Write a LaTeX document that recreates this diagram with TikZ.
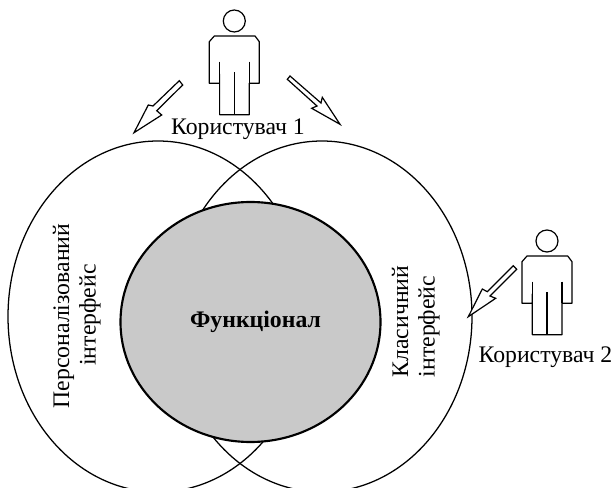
\documentclass[tikz,border=0pt]{standalone}
\usepackage{fontspec}
\setmainfont{Liberation Serif}
\tikzset{
  x=0.75pt,y=-0.75pt,
  ln/.style={draw=black,line width=0.9pt,line join=miter},
  oval/.style={ln,line width=0.95pt},
  core/.style={draw=black,line width=1.6pt,fill=black!21},
  lbl/.style={inner sep=0pt,anchor=base,font=\fontsize{17.8pt}{19pt}\selectfont,align=center},
  blockarrow/.style={ln,fill=white},
  pics/person/.style={code={
    \draw[ln] (0,0) circle[radius=11];
    \draw[ln,line join=round] (-14.7,53) -- (-14.7,62.3) -- (-25,62.3) -- (-25,20.7) -- (-20,15) -- (20.7,15) -- (25,20.7) -- (25,62.3) -- (15,62.3) -- (15,93.7) -- (-14.7,93.7) -- cycle;
    \draw[ln] (-14.7,40.7) -- (-14.7,62.3) (15,40.7) -- (15,62.3) (0,51.3) -- (0,93.7);
  }}
}
\begin{document}
\begin{tikzpicture}
\useasboundingbox (0,0) rectangle (614,488);
\clip (0,0) rectangle (614,488);
\draw[oval] (158,316.5) ellipse[x radius=150,y radius=175.5];
\draw[oval] (322,316.5) ellipse[x radius=150,y radius=175.5];
\draw[core] (250.5,322) ellipse[x radius=130,y radius=120];
\pic at (234.3,21) {person};
\pic at (547,241) {person};
\draw[blockarrow] (179.3,80.7) -- (153,106) -- (148.3,105) -- (134,132.7) -- (161.7,115) -- (156.7,110.7) -- (182.7,85) -- cycle;
\draw[blockarrow] (290,76) -- (321,103) -- (322.3,97.3) -- (340,124.3) -- (311.7,108.3) -- (317,106) -- (287.3,79.3) -- cycle;
\draw[blockarrow] (513.3,265.7) -- (487.3,291.7) -- (482.3,289) -- (468.3,316.7) -- (495.7,298.3) -- (490,296) -- (516.7,269.3) -- cycle;
\node[lbl] (u1) at (238,135) {Користувач 1};
\node[lbl] (u2) at (545.5,363) {Користувач 2};
\node[lbl,font=\fontsize{17.8pt}{19pt}\selectfont\bfseries] (f) at (255.5,328) {Функціонал};
\node[lbl,rotate=90] (p1) at (69,316) {Персоналізований};
\node[lbl,rotate=90] (p2) at (95.5,315) {інтерфейс};
\node[lbl,rotate=90] (k1) at (408,321.5) {Класичний};
\node[lbl,rotate=90] (k2) at (434.5,326.5) {інтерфейс};
\end{tikzpicture}
\end{document}
